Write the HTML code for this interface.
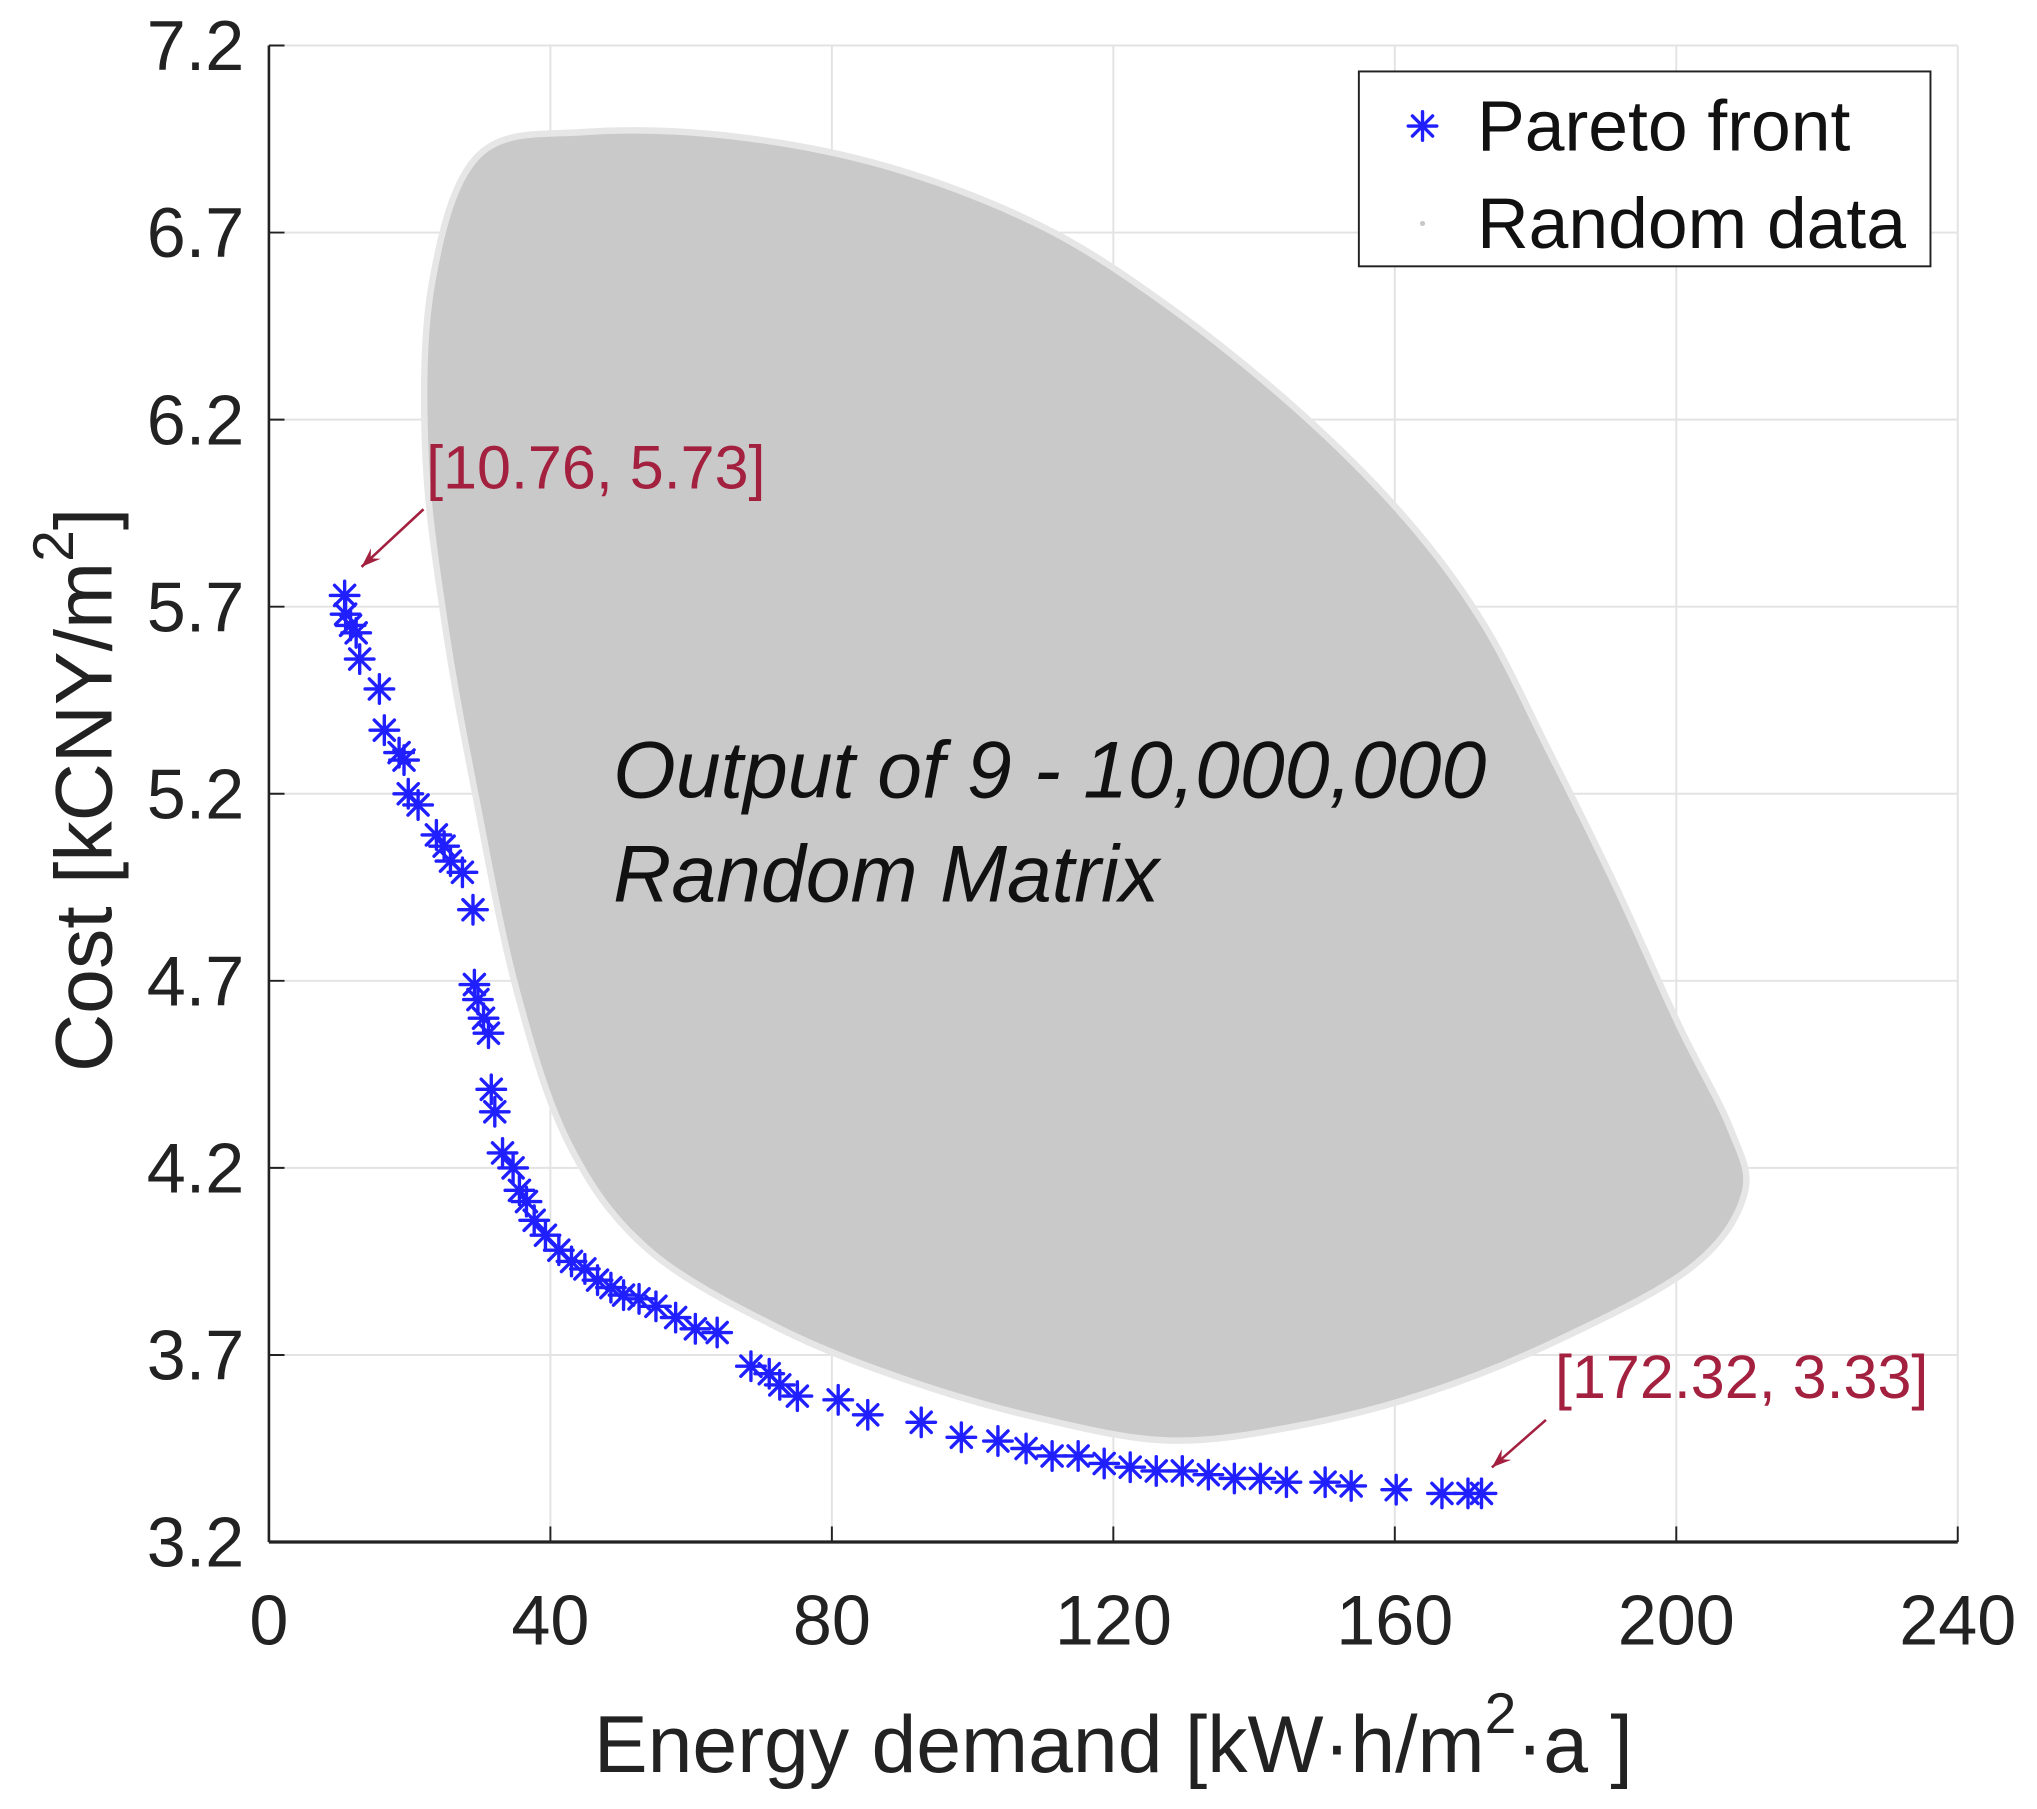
<!DOCTYPE html>
<html><head><meta charset="utf-8"><style>
html,body{margin:0;padding:0;background:#fff;}
svg{display:block;font-family:"Liberation Sans",Arial,sans-serif;}
</style></head><body>
<svg id="chart" width="2037" height="1809" viewBox="0 0 1568 1392.5" xmlns="http://www.w3.org/2000/svg">
<rect width="1568" height="1393" fill="#fff"/>
<g id="grid"></g>
<g id="cloud"></g>
<g id="pareto"></g>
<g id="axes"></g>
<text x="472" y="614" font-size="62" font-style="italic" fill="#111">Output of 9 - 10,000,000</text>
<text x="472" y="694" font-size="62" font-style="italic" fill="#111">Random Matrix</text>
<g id="callouts"></g>
<text x="857" y="1364" font-size="62" text-anchor="middle" fill="#222">Energy demand [kW·h/m<tspan dy="-30" font-size="44">2</tspan><tspan dy="30">·a ]</tspan></text>
<text transform="translate(86,608) rotate(-90)" font-size="62" text-anchor="middle" fill="#222">Cost [kCNY/m<tspan dy="-30" font-size="44">2</tspan><tspan dy="30">]</tspan></text>
<g>
<rect x="1046" y="55" width="440" height="150" fill="#fff" stroke="#222" stroke-width="1.5"/>
<g id="legmark"></g>
<text x="1137" y="116" font-size="55" fill="#111">Pareto front</text>
<circle cx="1095" cy="172" r="2" fill="#c8c8c8"/>
<text x="1137" y="191" font-size="55" fill="#111">Random data</text>
</g>
</svg>
<script>
const xTicks=[0,40,80,120,160,200,240];
const yTicks=[3.2,3.7,4.2,4.7,5.2,5.7,6.2,6.7,7.2];
const yTickLabels=["3.2","3.7","4.2","4.7","5.2","5.7","6.2","6.7","7.2"];
const paretoX=[10.76,10.9,11.6,12.4,12.9,15.7,16.4,18.5,19.2,19.8,21.2,23.8,24.9,25.8,27.5,29.0,29.2,29.7,30.5,31.2,31.6,32.1,33.2,34.7,35.6,36.6,37.7,39.3,41.2,43.0,44.9,46.7,48.6,50.4,52.6,55.0,57.8,60.6,63.7,68.5,71.1,72.6,75.1,80.9,85.1,92.7,98.4,103.6,107.6,111.3,115.0,118.7,122.4,126.1,129.8,133.5,137.2,140.9,144.6,150.1,153.8,160.2,166.7,170.4,172.32];
const paretoY=[5.73,5.68,5.65,5.63,5.56,5.48,5.37,5.31,5.29,5.20,5.17,5.09,5.06,5.02,4.99,4.89,4.69,4.65,4.60,4.56,4.41,4.35,4.24,4.20,4.14,4.11,4.06,4.02,3.98,3.95,3.93,3.90,3.88,3.86,3.85,3.83,3.80,3.77,3.76,3.67,3.65,3.62,3.59,3.58,3.54,3.52,3.48,3.47,3.45,3.43,3.43,3.41,3.40,3.39,3.39,3.38,3.37,3.37,3.36,3.36,3.35,3.34,3.33,3.33,3.33];
const cloudX=[30.1,44.9,65.2,87.4,109.5,128,146.4,161.2,172.2,181.5,190.7,199.9,207.3,209.2,201.8,183.3,164.9,146.4,128,109.5,91,72.6,54.1,43.0,35.6,30.1,25.5,22.7,23.6];
const cloudY=[6.90,6.96,6.95,6.87,6.71,6.49,6.21,5.93,5.65,5.31,4.96,4.58,4.30,4.13,3.94,3.75,3.61,3.52,3.48,3.54,3.64,3.78,3.99,4.27,4.68,5.17,5.65,6.11,6.56];
const X0=207,X1=1507,Y0=1187,Y1=35;
const sx=v=>X0+(v-0)/(240-0)*(X1-X0);
const sy=v=>Y0-(v-3.2)/(7.2-3.2)*(Y0-Y1);
const NS="http://www.w3.org/2000/svg";
function mk(tag,attrs,parent){const e=document.createElementNS(NS,tag);for(const k in attrs)e.setAttribute(k,attrs[k]);parent.appendChild(e);return e;}
const grid=document.getElementById('grid'),axes=document.getElementById('axes');
xTicks.forEach((t,i)=>{
  if(i>0){const l=mk('line',{x1:sx(t),x2:sx(t),y1:Y1,y2:Y0,stroke:'#e3e3e3','stroke-width':1.5},grid);
  
  }
  const tk=mk('line',{x1:sx(t),x2:sx(t),y1:Y0,y2:Y0-12,stroke:'#222','stroke-width':1.5},axes);
  
  
  const tx=mk('text',{x:sx(t),y:1266,'font-size':54,'text-anchor':'middle',fill:'#222'},axes);
  tx.textContent=t;
  
  
});
yTicks.forEach((t,i)=>{
  if(i>0){const l=mk('line',{x1:X0,x2:X1,y1:sy(t),y2:sy(t),stroke:'#e3e3e3','stroke-width':1.5},grid);
  
  }
  const tk=mk('line',{x1:X0,x2:X0+12,y1:sy(t),y2:sy(t),stroke:'#222','stroke-width':1.5},axes);
  
  
  const tx=mk('text',{x:188,y:sy(t)+19,'font-size':54,'text-anchor':'end',fill:'#222'},axes);
  tx.textContent=yTickLabels[i];
  
  
});
const al=mk('line',{x1:X0,x2:X0,y1:Y1,y2:Y0,stroke:'#222','stroke-width':2},axes);


const ab=mk('line',{x1:X0,x2:X1,y1:Y0,y2:Y0,stroke:'#222','stroke-width':2.5},axes);


// cloud
const cloud=document.getElementById('cloud');
const pts=cloudX.map((v,i)=>[sx(v),sy(cloudY[i])]);
let d='';const n=pts.length;
for(let i=0;i<n;i++){const p0=pts[(i-1+n)%n],p1=pts[i],p2=pts[(i+1)%n],p3=pts[(i+2)%n];
  if(i===0)d+='M'+p1[0]+','+p1[1];
  const c1=[p1[0]+(p2[0]-p0[0])/6,p1[1]+(p2[1]-p0[1])/6],c2=[p2[0]-(p3[0]-p1[0])/6,p2[1]-(p3[1]-p1[1])/6];
  d+='C'+c1+' '+c2+' '+p2;}
const halo=mk('path',{d:d+'Z',fill:'#e2e2e2',stroke:'#e6e6e6','stroke-width':10,'stroke-linejoin':'round'},cloud);


const body=mk('path',{d:d+'Z',fill:'#c9c9c9'},cloud);


// pareto
function star(g,cx,cy,r){
  const s=mk('g',{stroke:'#1f1fff','stroke-width':2.6,'stroke-linecap':'round'},g);
  for(let a=0;a<180;a+=45){const rad=a*Math.PI/180;
    mk('line',{x1:cx-r*Math.cos(rad),y1:cy-r*Math.sin(rad),x2:cx+r*Math.cos(rad),y2:cy+r*Math.sin(rad)},s);}
  return s;}
const pg=document.getElementById('pareto');
paretoX.forEach((v,i)=>{const s=star(pg,sx(v),sy(paretoY[i]),11);
  
  });
star(document.getElementById('legmark'),1095,97,11);
// callouts
const co=document.getElementById('callouts');
function callout(tx,ty,label,x1,y1,px,py){
  const t=mk('text',{x:tx,y:ty,'font-size':47,fill:'#a3203f'},co);t.textContent=label;
  
  
  const l=mk('line',{x1:x1,y1:y1,x2:px,y2:py,stroke:'#a3203f','stroke-width':2},co);
  
  
  const ang=Math.atan2(py-y1,px-x1),h=16;
  const a1=ang+Math.PI-0.35,a2=ang+Math.PI+0.35;
  const hd=mk('polygon',{points:`${px},${py} ${px+h*Math.cos(a1)},${py+h*Math.sin(a1)} ${px+h*0.6*Math.cos(ang+Math.PI)},${py+h*0.6*Math.sin(ang+Math.PI)} ${px+h*Math.cos(a2)},${py+h*Math.sin(a2)}`,fill:'#a3203f'},co);
  
  
}
callout(328,376,'[10.76, 5.73]',326,392,sx(paretoX[0])+13,sy(paretoY[0])-22);
const L=paretoX.length-1;
callout(1197,1076,'[172.32, 3.33]',1190,1093,sx(paretoX[L])+8,sy(paretoY[L])-20);
</script>
</body></html>
